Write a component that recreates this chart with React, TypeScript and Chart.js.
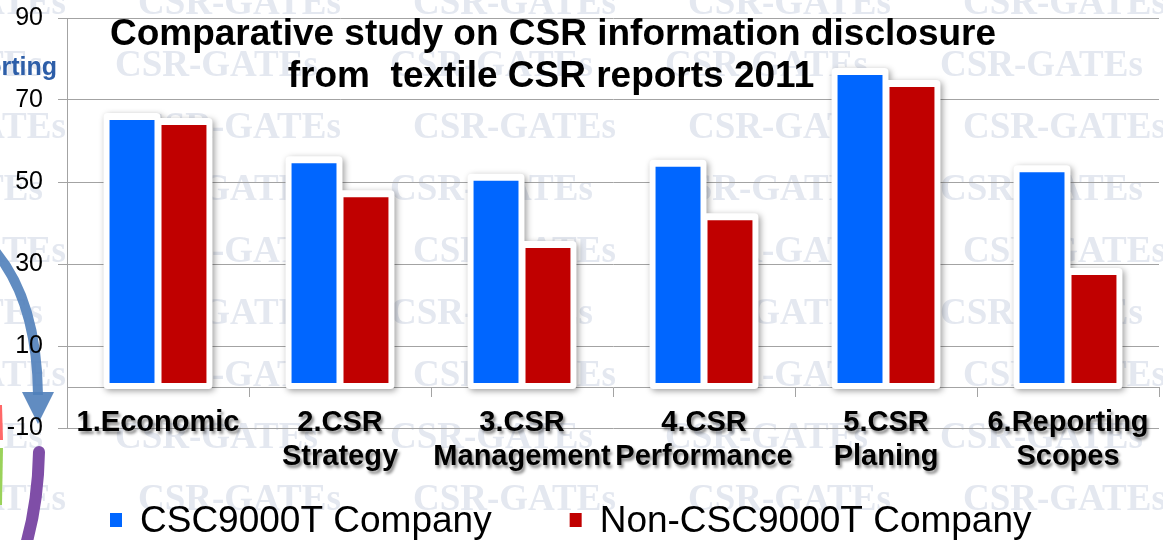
import React, { useEffect, useRef } from "react";
import { Chart, registerables } from "chart.js";

Chart.register(...registerables);

// ---------- data ----------
const categories: string[][] = [
  ["1.Economic"],
  ["2.CSR", "Strategy"],
  ["3.CSR", "Management"],
  ["4.CSR", "Performance"],
  ["5.CSR", "Planing"],
  ["6.Reporting", "Scopes"],
];
const csc9000tValues = [65.1, 54.6, 50.3, 53.7, 76.1, 52.4];
const nonCsc9000tValues = [63.9, 46.3, 33.9, 40.7, 73.2, 27.3];
const yTickValues = [-10, 10, 30, 50, 70, 90];
const seriesNames = ["CSC9000T Company", "Non-CSC9000T Company"];
const seriesColors = ["#0066ff", "#c00000"];
const titleLines = [
  "Comparative study on CSR information disclosure",
  "from  textile CSR reports 2011",
];
const watermarkText = "CSR-GATEs";

// ---------- styles ----------
const SANS = '"Liberation Sans", Arial, Helvetica, sans-serif';
const SERIF = '"Liberation Serif", "Times New Roman", serif';
const GRID = "#a3a3a3";

function rr(ctx: CanvasRenderingContext2D, x: number, y: number, w: number, h: number, r: number) {
  if ((ctx as any).roundRect) {
    (ctx as any).roundRect(x, y, w, h, r);
  } else {
    ctx.rect(x, y, w, h);
  }
}

const backgroundPlugin = {
  id: "slideBackground",
  beforeDraw(chart: any) {
    const ctx: CanvasRenderingContext2D = chart.ctx;
    ctx.save();
    ctx.fillStyle = "#ffffff";
    ctx.fillRect(0, 0, chart.width, chart.height);

    // watermark
    ctx.font = `bold 37px ${SERIF}`;
    ctx.fillStyle = "#e4e8f0";
    ctx.textBaseline = "middle";
    ctx.textAlign = "left";
    for (let r = 0; r < 9; r++) {
      const y = 4 + 62 * r;
      const x0 = r % 2 === 0 ? 963 : 940;
      for (let x = x0; x > -300; x -= 275) ctx.fillText(watermarkText, x, y);
    }

    // slide fragments on the left edge
    ctx.font = `bold 25px ${SANS}`;
    ctx.fillStyle = "#2d5ea8";
    ctx.textAlign = "right";
    ctx.textBaseline = "alphabetic";
    ctx.fillText("Reporting", 57, 75);

    ctx.strokeStyle = "rgba(80,128,186,0.9)";
    ctx.lineWidth = 10;
    ctx.lineCap = "butt";
    ctx.beginPath();
    ctx.moveTo(-6, 250);
    ctx.quadraticCurveTo(37, 300, 38, 395);
    ctx.stroke();
    ctx.fillStyle = "rgba(80,128,186,0.9)";
    ctx.beginPath();
    ctx.moveTo(22, 392);
    ctx.lineTo(54, 392);
    ctx.lineTo(38, 424);
    ctx.closePath();
    ctx.fill();

    ctx.strokeStyle = "#7f4ea7";
    ctx.lineWidth = 12;
    ctx.lineCap = "round";
    ctx.beginPath();
    ctx.moveTo(39, 452);
    ctx.quadraticCurveTo(38, 505, 25, 548);
    ctx.stroke();

    ctx.lineCap = "butt";
    ctx.lineWidth = 4;
    ctx.strokeStyle = "#ff6868";
    ctx.beginPath();
    ctx.moveTo(0, 405);
    ctx.lineTo(1, 440);
    ctx.stroke();
    ctx.strokeStyle = "#9ad25a";
    ctx.beginPath();
    ctx.moveTo(1, 448);
    ctx.lineTo(0, 505);
    ctx.stroke();
    ctx.restore();
  },
};

const framePlugin = {
  id: "barFrames",
  beforeDatasetsDraw(chart: any) {
    const ctx: CanvasRenderingContext2D = chart.ctx;
    const metas = chart.data.datasets.map((_: any, i: number) => chart.getDatasetMeta(i));
    const n = chart.data.labels.length;
    ctx.save();
    ctx.shadowColor = "rgba(0,0,0,0.38)";
    ctx.shadowBlur = 6;
    ctx.shadowOffsetX = 2;
    ctx.shadowOffsetY = 2;
    ctx.fillStyle = "#ffffff";
    for (let i = 0; i < n; i++) {
      ctx.beginPath();
      metas.forEach((meta: any) => {
        const el = meta.data[i];
        if (!el) return;
        const { x, y, base, width } = el.getProps(["x", "y", "base", "width"], true);
        rr(ctx, x - width / 2 - 6, y - 7, width + 12, base - y + 13, 4);
      });
      ctx.fill();
    }
    ctx.restore();
  },
  afterDatasetsDraw(chart: any) {
    // shadow for x-axis labels (drawn after datasets, z = 1)
    const ctx: CanvasRenderingContext2D = chart.ctx;
    ctx.save();
    ctx.shadowColor = "rgba(0,0,0,0.45)";
    ctx.shadowBlur = 3;
    ctx.shadowOffsetX = 2;
    ctx.shadowOffsetY = 3;
  },
  afterDraw(chart: any) {
    const ctx: CanvasRenderingContext2D = chart.ctx;
    ctx.restore();

    // title
    ctx.save();
    ctx.fillStyle = "#000000";
    ctx.textAlign = "center";
    ctx.textBaseline = "alphabetic";
    ctx.font = `bold 37px ${SANS}`;
    ctx.fillText(titleLines[0], 553, 45);
    ctx.fillText(titleLines[1], 551, 87);
    ctx.restore();

    // legend
    ctx.save();
    ctx.font = `37px ${SANS}`;
    ctx.textAlign = "left";
    ctx.textBaseline = "alphabetic";
    let x = 110;
    chart.data.datasets.forEach((ds: any) => {
      ctx.fillStyle = ds.backgroundColor;
      ctx.fillRect(x, 513, 12, 14);
      ctx.fillStyle = "#000000";
      ctx.fillText(ds.label, x + 30, 532);
      x += 30 + ctx.measureText(ds.label).width + 78;
    });
    ctx.restore();
  },
};

export default function App() {
  const canvasRef = useRef<HTMLCanvasElement | null>(null);

  useEffect(() => {
    const canvas = canvasRef.current;
    if (!canvas) return;
    const chart = new Chart(canvas, {
      type: "bar",
      data: {
        labels: categories,
        datasets: [
          {
            label: seriesNames[0],
            data: csc9000tValues,
            backgroundColor: seriesColors[0],
            borderWidth: 0,
            base: 1,
            categoryPercentage: 0.571,
            barPercentage: 0.865,
          } as any,
          {
            label: seriesNames[1],
            data: nonCsc9000tValues,
            backgroundColor: seriesColors[1],
            borderWidth: 0,
            base: 1,
            categoryPercentage: 0.571,
            barPercentage: 0.865,
          } as any,
        ],
      },
      options: {
        responsive: true,
        maintainAspectRatio: false,
        animation: false,
        layout: { padding: { left: 7, right: 4, top: 18, bottom: 112 } },
        plugins: {
          legend: { display: false },
          title: { display: false },
          tooltip: { enabled: false },
        },
        scales: {
          x: {
            position: { y: 0 } as any,
            offset: true,
            afterFit: (s: any) => {
              s.height = 0;
              s.paddingLeft = 0;
              s.paddingRight = 0;
            },
            grid: {
              offset: true,
              drawOnChartArea: false,
              drawTicks: true,
              tickLength: 9,
              color: GRID,
            },
            border: { display: true, color: GRID, width: 1 },
            ticks: {
              z: 1,
              color: "#000000",
              font: { family: SANS, size: 29, weight: "bold", lineHeight: 1.17 },
              padding: 10,
              maxRotation: 0,
              minRotation: 0,
              autoSkip: false,
            },
          },
          y: {
            min: -10,
            max: 90,
            afterBuildTicks: (s: any) => {
              s.ticks = yTickValues.map((v) => ({ value: v }));
            },
            afterFit: (s: any) => {
              s.width = 60;
              s.paddingTop = 0;
              s.paddingBottom = 0;
            },
            grid: { color: GRID, tickLength: 9, drawTicks: true },
            border: { display: true, color: GRID, width: 1 },
            ticks: {
              color: "#000000",
              font: { family: SANS, size: 25 },
              padding: 15,
            },
          },
        },
      },
      plugins: [backgroundPlugin, framePlugin],
    });
    return () => chart.destroy();
  }, []);

  return (
    <div style={{ position: "fixed", left: 0, top: 0, width: 1163, height: 540, background: "#fff" }}>
      <canvas ref={canvasRef} />
    </div>
  );
}
